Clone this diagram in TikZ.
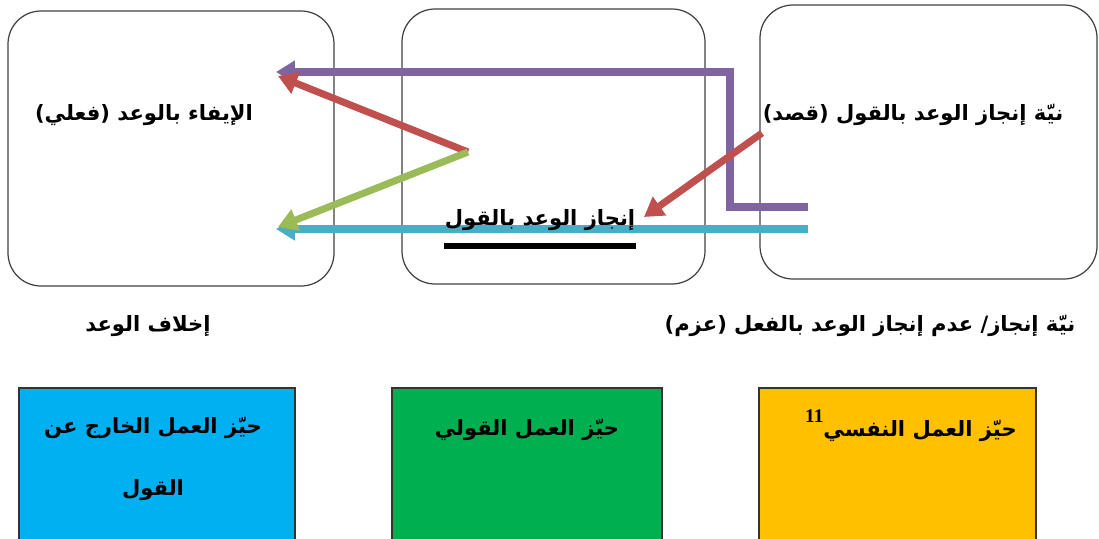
\documentclass[tikz,border=0pt]{standalone}
\usepackage{fontspec}
\usetikzlibrary{arrows.meta}
\TeXXeTstate=1
\newfontfamily\arabicfont[Script=Arabic]{DejaVu Sans}
\newfontfamily\numfont{Liberation Serif}

\definecolor{lilac}{HTML}{8064A2}
\definecolor{brick}{HTML}{C0504D}
\definecolor{olive}{HTML}{9BBB59}
\definecolor{teal}{HTML}{4BACC6}
\definecolor{sky}{HTML}{00B0F0}
\definecolor{leaf}{HTML}{00B050}
\definecolor{amber}{HTML}{FFC000}

\tikzset{
  zone/.style={draw=black!75, line width=0.7pt, rounded corners=0.66cm},
  field/.style={draw=black!80, line width=0.6pt},
  txt/.style={font=\arabicfont\bfseries\fontsize{12}{35}\selectfont, inner sep=0pt, align=center},
  link/.style={line width=4pt, -{Triangle[length=0.38cm,width=0.44cm]}},
}

\begin{document}
\begin{tikzpicture}
  [x=0.02cm,y=-0.02cm]
  \useasboundingbox (0,0) rectangle (1099,538);
  \clip (0,0) rectangle (1099,538);

  % the three acts
  \draw[zone] (8,11) rectangle (334,286);
  \draw[zone] (402,9) rectangle (705,284);
  \draw[zone] (760,5) rectangle (1097,279);

  % the three fields
  \draw[field,fill=sky] (19,388) rectangle (295,545);
  \draw[field,fill=leaf] (392,388) rectangle (662,545);
  \draw[field,fill=amber] (759,388) rectangle (1036,545);

  % ends of the arrows
  \coordinate (intentA) at (808,207);
  \coordinate (intentB) at (808,229);
  \coordinate (intentC) at (762,133);
  \coordinate (bend) at (730,72);
  \coordinate (fork) at (468,152);
  \coordinate (keepTip) at (276,72);
  \coordinate (keepTipB) at (278,76);
  \coordinate (breakTip) at (278,227);
  \coordinate (breakTipB) at (276,229);
  \coordinate (sayTip) at (644,217);

  \draw[link,lilac] (intentA) -| (bend) -- (keepTip);
  \draw[link,teal] (intentB) -- (breakTipB);
  \foreach \from/\to/\col in {fork/keepTipB/brick, fork/breakTip/olive, intentC/sayTip/brick}
    \draw[link,\col] (\from) -- (\to);

  % texts
  \node[txt] (keep) at (144,115) {\beginR الإيفاء بالوعد (فعلي)\endR};
  \node[txt] (promise) at (540,220) {\beginR إنجاز الوعد بالقول\endR};
  \draw[line width=3.4pt] ([yshift=-8.5pt]promise.south west) -- ([yshift=-8.5pt]promise.south east);
  \node[txt] (intent) at (913,115) {\beginR نيّة إنجاز الوعد بالقول (قصد)\endR};
  \node[txt] (breach) at (148,326) {\beginR إخلاف الوعد\endR};
  \node[txt] (resolve) at (870,326) {\beginR نيّة إنجاز/ عدم إنجاز الوعد بالفعل (عزم)\endR};

  \node[txt] (outer) at (153,459) {\beginR حيّز العمل الخارج عن\endR\\\beginR القول\endR};
  \node[txt] (verbal) at (527,430) {\beginR حيّز العمل القولي\endR};
  \node[txt, anchor=base] (inner) at (911,436) {\beginR حيّز العمل النفسي\beginL\raisebox{1.2ex}{\numfont\fontsize{11}{12}\selectfont 11}\endL\endR};
\end{tikzpicture}
\end{document}
